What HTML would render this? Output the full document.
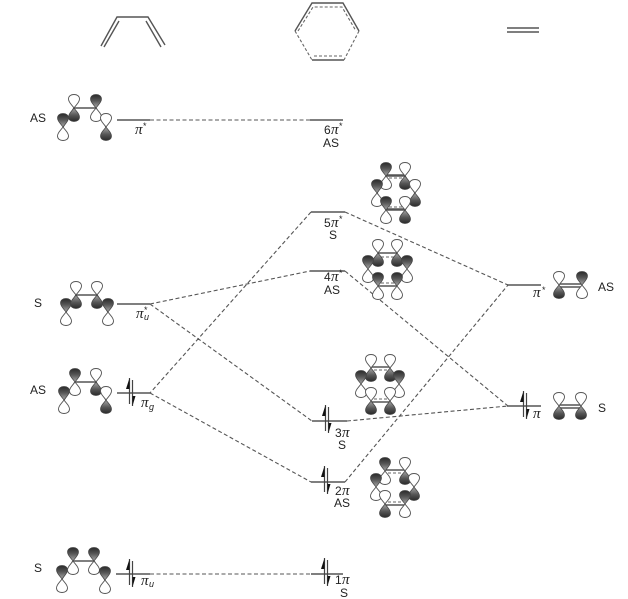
<!DOCTYPE html>
<html><head><meta charset="utf-8"><style>
html,body{margin:0;padding:0;background:#fff}
svg{display:block;filter:blur(0.35px)}
text{font-family:"Liberation Sans",sans-serif;font-size:12px;fill:#222}
.p{font-family:"Liberation Serif",serif;font-style:italic;font-size:15px}
.s{font-size:9px}
.l{stroke:#555;stroke-width:1.5;fill:none}
.d{stroke:#555;stroke-width:1.1;fill:none;stroke-dasharray:4 2.5}
.b{stroke:#555;stroke-width:1.4;fill:none}
.bd{stroke:#666;stroke-width:1.1;fill:none;stroke-dasharray:3 2}
</style></head><body>
<svg width="628" height="599" viewBox="0 0 628 599" xmlns="http://www.w3.org/2000/svg">
<defs>
<linearGradient id="g" x1="0" y1="0" x2="0" y2="1"><stop offset="0" stop-color="#2a2a2a"/><stop offset="0.45" stop-color="#555"/><stop offset="1" stop-color="#a8a8a8"/></linearGradient>
<linearGradient id="g2" x1="0" y1="1" x2="0" y2="0"><stop offset="0" stop-color="#2a2a2a"/><stop offset="0.45" stop-color="#555"/><stop offset="1" stop-color="#a8a8a8"/></linearGradient>
<path id="lu" d="M0,0C-2,-3 -5.500,-5.500 -5.500,-9C-5.500,-12 -3,-13.500 0,-13.500C3,-13.500 5.500,-12 5.500,-9C5.500,-5.500 2,-3 0,0Z"/>
<path id="ld" d="M0,0C-2,3 -5.500,5.500 -5.500,9C-5.500,12 -3,13.500 0,13.500C3,13.500 5.500,12 5.500,9C5.500,5.500 2,3 0,0Z"/>
<g id="u"><use href="#lu" fill="url(#g)" stroke="#444" stroke-width=".7"/><use href="#ld" fill="#fff" stroke="#555" stroke-width=".9"/></g>
<g id="n"><use href="#lu" fill="#fff" stroke="#555" stroke-width=".9"/><use href="#ld" fill="url(#g2)" stroke="#444" stroke-width=".7"/></g>
<g id="e"><path d="M-1.5,-15V11M1.5,-13V13" stroke="#444" stroke-width="1.2" fill="none"/><path d="M-1.5,-15L-5,-4H-1.5Z" fill="#111"/><path d="M1.5,13L4.5,3H1.5Z" fill="#111"/></g>
</defs>

<!-- top molecules -->
<path class="b" d="M101,46L117,17H148L165,45M104,47L119,21M146,21L161,47"/>
<path class="b" d="M295,31L312,3H343L359,31M312,60H344"/>
<path class="bd" d="M295,31L312,60M359,31L344,60M298,31L313,7H342L356,31M314,56H342"/>
<path class="b" d="M507,28H539M507,32H539"/>

<!-- connectors -->
<path class="d" d="M150,120H310M150,574H311"/>
<path class="d" d="M345,212L508,285M311,212L150,393M150,304L310,271M345,271L508,406M347,421L508,406M150,304L312,421M345,482L508,285M150,393L311,482"/>

<!-- levels -->
<path class="l" d="M117,120H150M310,120H343M311,212H345M310,271H345M117,304H150M117,393H150M312,421H347M311,482H345M507,285H541M507,406H541M116,574H150M311,574H343"/>

<!-- electrons -->
<use href="#e" x="131" y="393"/><use href="#e" x="131" y="574"/>
<use href="#e" x="327" y="420"/><use href="#e" x="326" y="481"/><use href="#e" x="326" y="573"/><use href="#e" x="525" y="406"/>

<!-- butadiene AS pi* -->
<path class="b" d="M63,127L74,108H96L106,127"/>
<use href="#u" x="63" y="127"/><use href="#n" x="74" y="108"/><use href="#u" x="96" y="108"/><use href="#n" x="106" y="127"/>
<!-- butadiene S pi_u* -->
<path class="b" d="M66,312L76,295H97L108,312"/>
<use href="#u" x="66" y="312"/><use href="#n" x="76" y="295"/><use href="#n" x="97" y="295"/><use href="#u" x="108" y="312"/>
<!-- butadiene AS pi_g -->
<path class="b" d="M64,400L75,382H96L106,400"/>
<use href="#u" x="64" y="400"/><use href="#u" x="75" y="382"/><use href="#n" x="96" y="382"/><use href="#n" x="106" y="400"/>
<!-- butadiene S pi_u -->
<path class="b" d="M62,579L73,561H94L105,580"/>
<use href="#u" x="62" y="579"/><use href="#u" x="73" y="561"/><use href="#u" x="94" y="561"/><use href="#u" x="105" y="580"/>

<!-- 5pi* -->
<path class="b" d="M377,193L386,176H405L415,193M377,193L386,210H405L415,193M386,175H405M386,209H405"/>
<path class="bd" d="M389,178H403M389,207H403"/>
<use href="#u" x="386" y="176"/><use href="#n" x="405" y="176"/><use href="#u" x="377" y="193"/><use href="#n" x="415" y="193"/><use href="#u" x="386" y="210"/><use href="#n" x="405" y="210"/>
<!-- 4pi* -->
<path class="b" d="M378,253H397M378,286H397"/>
<path class="bd" d="M381,257H395M381,283H395"/>
<use href="#n" x="378" y="253"/><use href="#n" x="397" y="253"/><use href="#u" x="368" y="269"/><use href="#u" x="407" y="269"/><use href="#u" x="378" y="286"/><use href="#u" x="397" y="286"/>
<!-- 3pi -->
<path class="b" d="M371,367H390M371,402H390"/>
<path class="bd" d="M374,370H388M374,399H388"/>
<use href="#n" x="371" y="368"/><use href="#n" x="390" y="368"/><use href="#u" x="361" y="384"/><use href="#u" x="399" y="384"/><use href="#n" x="371" y="401"/><use href="#n" x="390" y="401"/>
<!-- 2pi -->
<path class="b" d="M385,470H405M385,505H405"/>
<path class="bd" d="M388,473H403M388,502H403"/>
<use href="#u" x="385" y="471"/><use href="#n" x="405" y="471"/><use href="#u" x="376" y="487"/><use href="#n" x="414" y="487"/><use href="#n" x="385" y="504"/><use href="#u" x="405" y="504"/>

<!-- ethylene -->
<path class="b" d="M559,284H582M559,287H582"/>
<use href="#n" x="559" y="285"/><use href="#u" x="582" y="285"/>
<path class="b" d="M559,405H581M559,408H581"/>
<use href="#n" x="559" y="406"/><use href="#n" x="581" y="406"/>

<!-- left labels -->
<text x="30" y="122">AS</text><text x="34" y="307">S</text><text x="30" y="394">AS</text><text x="34" y="572">S</text>
<text x="135" y="134" class="p">π</text><text x="143" y="129" class="s">*</text>
<text x="136" y="318" class="p">π</text><text x="144" y="313" class="s">*</text><text x="144" y="320" class="s" font-style="italic">u</text>
<text x="141" y="407" class="p">π</text><text x="149" y="410" class="s" font-style="italic">g</text>
<text x="141" y="585" class="p">π</text><text x="149" y="587" class="s" font-style="italic">u</text>

<!-- centre labels -->
<text x="324" y="134">6</text><text x="331" y="134" class="p">π</text><text x="339" y="129" class="s">*</text><text x="323" y="147">AS</text>
<text x="324" y="227">5</text><text x="331" y="227" class="p">π</text><text x="339" y="222" class="s">*</text><text x="329" y="239">S</text>
<text x="324" y="281">4</text><text x="331" y="281" class="p">π</text><text x="339" y="276" class="s">*</text><text x="324" y="294">AS</text>
<text x="335" y="437">3</text><text x="342" y="437" class="p">π</text><text x="338" y="449">S</text>
<text x="335" y="495">2</text><text x="342" y="495" class="p">π</text><text x="334" y="507">AS</text>
<text x="335" y="584">1</text><text x="342" y="584" class="p">π</text><text x="340" y="597">S</text>

<!-- right labels -->
<text x="533" y="297" class="p">π</text><text x="542" y="293" class="s">*</text>
<text x="533" y="418" class="p">π</text>
<text x="598" y="291">AS</text><text x="598" y="412">S</text>
</svg>
</body></html>
